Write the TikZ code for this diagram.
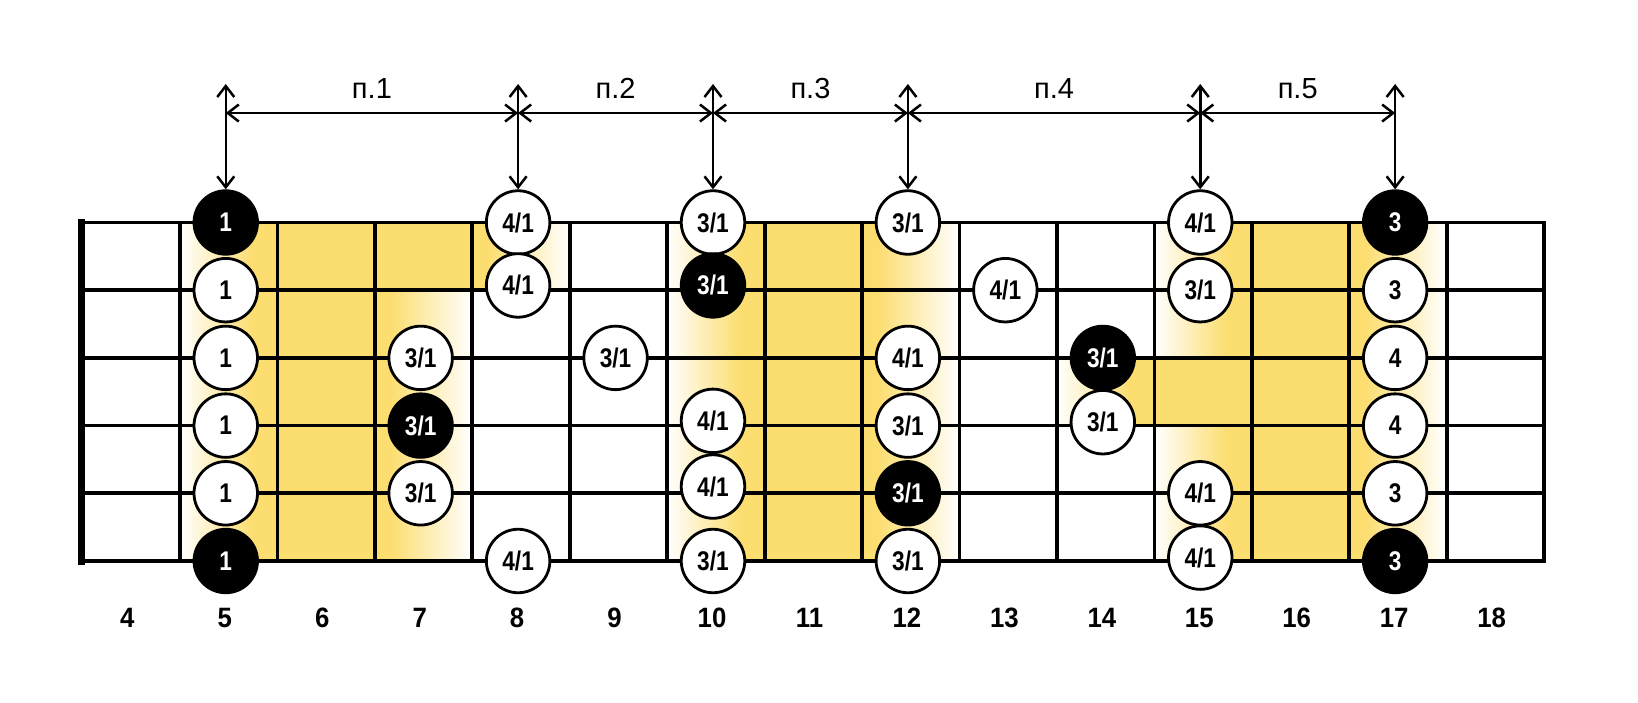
\documentclass[tikz,border=0pt]{standalone}
\usepackage{fontspec}
\setmainfont{Liberation Sans}
\newfontfamily\condfont[FakeStretch=0.84]{Liberation Sans}
\newfontfamily\semicond[FakeStretch=0.92]{Liberation Sans}
\usetikzlibrary{arrows.meta}
\definecolor{fy}{RGB}{252,221,111}
\newcommand\shWY[3]{\shade[left color=white,right color=fy] (#1,#2) rectangle ({#1+0.75},#3);
  \fill[fy] ({#1+0.74},#2) rectangle ({#1+1},#3);}
\newcommand\shYW[3]{\fill[fy] (#1,#2) rectangle ({#1+0.16},#3);
  \shade[left color=fy,right color=white] ({#1+0.15},#2) rectangle ({#1+1},#3);}
\begin{document}
\begin{tikzpicture}[x=97.45pt,y=-67.7pt,
  gridline/.style={line width=3.8pt,line cap=rect},
  nutline/.style={line width=7pt,line cap=rect},
  dotw/.style={circle,draw=black,line width=2.8pt,fill=white,minimum size=63.5pt,inner sep=0pt,
    font=\condfont\bfseries\fontsize{27}{27}\selectfont},
  dotb/.style={dotw,fill=black,text=white},
  dimarrow/.style={line width=2.5pt,{Straight Barb[length=11pt,width=17pt]}-{Straight Barb[length=11pt,width=17pt]}},
  poslab/.style={font=\fontsize{29}{29}\selectfont},
  fretlab/.style={font=\semicond\bfseries\fontsize{28}{28}\selectfont}]
\useasboundingbox (-82.5pt,222.5pt) rectangle (1555.5pt,-480.5pt);
% yellow shading
\shWY{1}{0}{5}
\fill[fy] (2,0) rectangle (3,5);
\fill[fy] (3,0) rectangle (4,1);
\shYW{3}{1}{5}
\shYW{4}{0}{1}
\shWY{6}{0}{5}
\fill[fy] (7,0) rectangle (8,5);
\shYW{8}{0}{5}
\shWY{10}{2}{3}
\shWY{11}{0}{2}
\fill[fy] (11,2) rectangle (12,3);
\shWY{11}{3}{5}
\fill[fy] (12,0) rectangle (13,5);
\shYW{13}{0}{5}
% strings
\foreach \s in {0,...,5} \draw[gridline] (0,\s) -- (15,\s);
% frets
\foreach \f in {1,...,15} \draw[gridline] (\f,0) -- (\f,5);
% nut
\draw[nutline] (-0.01,0) -- (-0.01,5);
% dots: fret 5
\node[dotb] (d5s1) at (1.47,0) {1};
\node[dotw] (d5s2) at (1.47,1) {1};
\node[dotw] (d5s3) at (1.47,2) {1};
\node[dotw] (d5s4) at (1.47,3) {1};
\node[dotw] (d5s5) at (1.47,4) {1};
\node[dotb] (d5s6) at (1.47,5) {1};
% fret 7
\node[dotw] (d7s3) at (3.47,2) {3/1};
\node[dotb] (d7s4) at (3.47,3) {3/1};
\node[dotw] (d7s5) at (3.47,4) {3/1};
% fret 8
\node[dotw] (d8s1) at (4.47,0) {4/1};
\node[dotw] (d8s2) at (4.47,0.93) {4/1};
\node[dotw] (d8s6) at (4.47,5) {4/1};
% fret 9
\node[dotw] (d9s3) at (5.47,2) {3/1};
% fret 10
\node[dotw] (d10s1) at (6.47,0) {3/1};
\node[dotb] (d10s2) at (6.47,0.93) {3/1};
\node[dotw] (d10s4) at (6.47,2.93) {4/1};
\node[dotw] (d10s5) at (6.47,3.9) {4/1};
\node[dotw] (d10s6) at (6.47,5) {3/1};
% fret 12
\node[dotw] (d12s1) at (8.47,0) {3/1};
\node[dotw] (d12s3) at (8.47,2) {4/1};
\node[dotw] (d12s4) at (8.47,3) {3/1};
\node[dotb] (d12s5) at (8.47,4) {3/1};
\node[dotw] (d12s6) at (8.47,5) {3/1};
% fret 13
\node[dotw] (d13s2) at (9.47,1) {4/1};
% fret 14
\node[dotb] (d14s3) at (10.47,2) {3/1};
\node[dotw] (d14s4) at (10.47,2.95) {3/1};
% fret 15
\node[dotw] (d15s1) at (11.47,0) {4/1};
\node[dotw] (d15s2) at (11.47,1) {3/1};
\node[dotw] (d15s5) at (11.47,4) {4/1};
\node[dotw] (d15s6) at (11.47,4.95) {4/1};
% fret 17
\node[dotb] (d17s1) at (13.47,0) {3};
\node[dotw] (d17s2) at (13.47,1) {3};
\node[dotw] (d17s3) at (13.47,2) {4};
\node[dotw] (d17s4) at (13.47,3) {4};
\node[dotw] (d17s5) at (13.47,4) {3};
\node[dotb] (d17s6) at (13.47,5) {3};
% position arrows
\foreach \n/\x in {5/1.47,8/4.47,10/6.47,12/8.47,15/11.47,17/13.47}{
  \coordinate (t\n) at (\x,-2.046);
  \coordinate (h\n) at (\x,-1.617);
}
\draw[dimarrow] (t5) -- (d5s1);
\draw[dimarrow] (t8) -- (d8s1);
\draw[dimarrow] (t10) -- (d10s1);
\draw[dimarrow] (t12) -- (d12s1);
\draw[dimarrow] (t15) -- (d15s1);
\draw[dimarrow] (t17) -- (d17s1);
\draw[dimarrow] (h5) -- (h8);
\draw[dimarrow] (h8) -- (h10);
\draw[dimarrow] (h10) -- (h12);
\draw[dimarrow] (h12) -- (h15);
\draw[dimarrow] (h15) -- (h17);
\node[poslab] (p1) at (2.97,-1.98) {п.1};
\node[poslab] (p2) at (5.47,-1.98) {п.2};
\node[poslab] (p3) at (7.47,-1.98) {п.3};
\node[poslab] (p4) at (9.97,-1.98) {п.4};
\node[poslab] (p5) at (12.47,-1.98) {п.5};
% fret numbers
\foreach \n in {4,...,18}{
  \node[fretlab] (f\n) at ({\n-3.54},5.842) {\n};
}
\end{tikzpicture}
\end{document}
